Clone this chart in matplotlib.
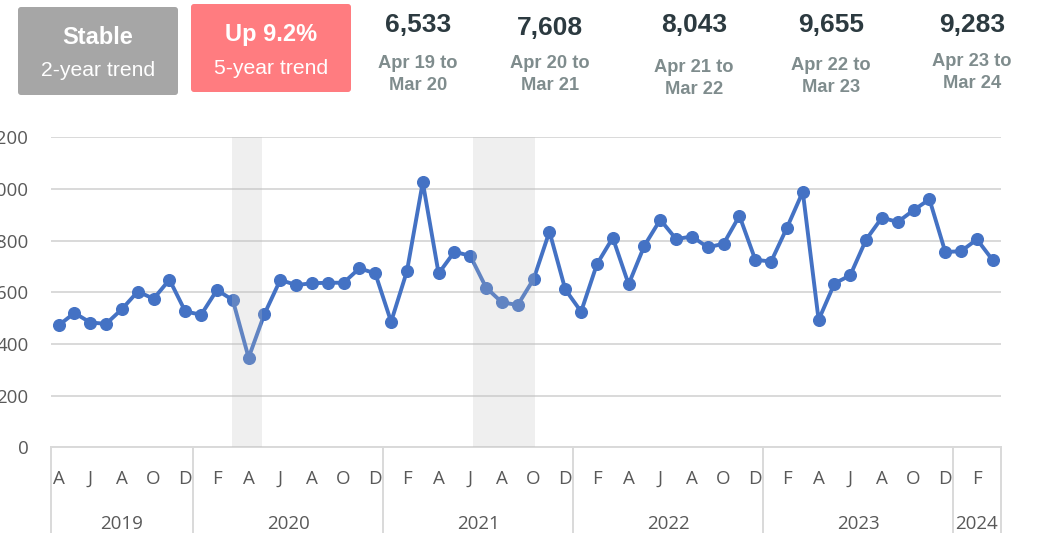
import matplotlib
matplotlib.use("Agg")
import matplotlib.pyplot as plt
import matplotlib.patches as mpatches
from matplotlib.transforms import blended_transform_factory

# ---------------- data ----------------
values = [472, 520, 483, 478, 535, 603, 575, 649, 526, 513, 609, 570,
          347, 516, 648, 628, 635, 637, 637, 693, 673, 486, 682, 1026,
          673, 757, 741, 618, 561, 551, 651, 835, 611, 525, 709, 811,
          631, 781, 881, 806, 816, 774, 788, 896, 726, 719, 850, 989,
          493, 634, 666, 804, 889, 872, 918, 960, 756, 759, 805, 724]
month_labels = ["A", "J", "A", "O", "D",
                "F", "A", "J", "A", "O", "D",
                "F", "A", "J", "A", "O", "D",
                "F", "A", "J", "A", "O", "D",
                "F", "A", "J", "A", "O", "D",
                "F"]
years = ["2019", "2020", "2021", "2022", "2023", "2024"]
year_month_counts = [9, 12, 12, 12, 12, 3]
shaded_ranges = [(10.97, 12.83), (26.2, 30.1)]
yticks = [0, 200, 400, 600, 800, 1000, 1200]

badge_titles = ["Stable", "Up 9.2%"]
badge_subtitles = ["2-year trend", "5-year trend"]
totals = ["6,533", "7,608", "8,043", "9,655", "9,283"]
period_line1 = ["Apr 19 to", "Apr 20 to", "Apr 21 to", "Apr 22 to", "Apr 23 to"]
period_line2 = ["Mar 20", "Mar 21", "Mar 22", "Mar 23", "Mar 24"]

# ---------------- figure ----------------
W, H = 1038, 533
fig = plt.figure(figsize=(W / 100, H / 100), dpi=100)

ax_l, ax_r, ax_t, ax_b = 50.7, 1000.7, 137.3, 447.3
ax = fig.add_axes([ax_l / W, 1 - ax_b / H, (ax_r - ax_l) / W, (ax_b - ax_t) / H])

x = list(range(len(values)))
ax.plot(x, values, color="#4472C4", lw=2.8, marker="o", markersize=8.4,
        zorder=3, solid_joinstyle="round")
for a, b in shaded_ranges:
    ax.axvspan(a, b, color="#BFBFBF", alpha=0.24, lw=0, zorder=4)

ax.set_xlim(-0.5, len(values) - 0.5)
ax.set_ylim(0, 1200)
ax.set_yticks(yticks)
ax.set_yticklabels([str(v) for v in yticks])
ax.grid(axis="y", color="#D9D9D9", lw=1.4, zorder=1)
ax.set_axisbelow(True)
for s in ["top", "right", "left"]:
    ax.spines[s].set_visible(False)
ax.spines["bottom"].set_color("#D9D9D9")
ax.spines["bottom"].set_linewidth(1.4)

lbl_font = "Open Sans"
ax.set_xticks(list(range(0, len(values), 2)))
ax.set_xticklabels(month_labels, fontsize=13.5, color="#595959", family=lbl_font)
ax.tick_params(axis="x", length=0, pad=16.5)
ax.tick_params(axis="y", length=0, pad=16, labelsize=13.5, labelcolor="#595959")
for t in ax.get_yticklabels():
    t.set_family(lbl_font)

# category dividers and year labels
trans = blended_transform_factory(ax.transData, ax.transAxes)
ybot = -(H - ax_b) / (ax_b - ax_t)
start = 0
bounds = [-0.5]
for yr, n in zip(years, year_month_counts):
    end = start + n
    bounds.append(end - 0.5)
    ax.text((start + end - 1) / 2, -(524 - ax_b) / (ax_b - ax_t), yr,
            transform=trans, ha="center", va="center", fontsize=13.5,
            color="#595959", family=lbl_font)
    start = end
for bx in bounds:
    ax.plot([bx, bx], [0, ybot], transform=trans, color="#D9D9D9",
            lw=1.4, clip_on=False)

# ---------------- header ----------------
hdr = fig.add_axes([0, 0, 1, 1])
hdr.set_xlim(0, W)
hdr.set_ylim(H, 0)
hdr.axis("off")
hdr.patch.set_alpha(0)

badge_boxes = [(18, 7, 160, 88, "#A6A6A6"), (191, 4, 160, 88, "#FF7C80")]
for (bx, by, bw, bh, col), t1, t2 in zip(badge_boxes, badge_titles, badge_subtitles):
    hdr.add_patch(mpatches.FancyBboxPatch((bx + 3, by + 3), bw - 6, bh - 6,
                                          boxstyle="round,pad=3", fc=col, ec="none"))
    cx = bx + bw / 2
    hdr.text(cx, by + 30, t1, ha="center", va="center", color="white",
             fontsize=17, fontweight="bold", family="Liberation Sans")
    hdr.text(cx, by + 64, t2, ha="center", va="center", color="white",
             fontsize=15.2, family="Liberation Sans")

tot_x = [418, 550, 694, 831, 972]
tot_y = [25, 28, 25, 25, 25]
p1_y = [64, 63, 67, 66, 62]
for i, (tx, ty, p1) in enumerate(zip(tot_x, tot_y, p1_y)):
    hdr.text(tx, ty, totals[i], ha="center", va="center", color="#2C3A40",
             fontsize=19, fontweight="bold", family="Liberation Sans")
    hdr.text(tx, p1, period_line1[i], ha="center", va="center", color="#7F8C8D",
             fontsize=13.2, fontweight="bold", family="Liberation Sans")
    hdr.text(tx, p1 + 22, period_line2[i], ha="center", va="center", color="#7F8C8D",
             fontsize=13.2, fontweight="bold", family="Liberation Sans")

fig.savefig("out.png", dpi=100)
